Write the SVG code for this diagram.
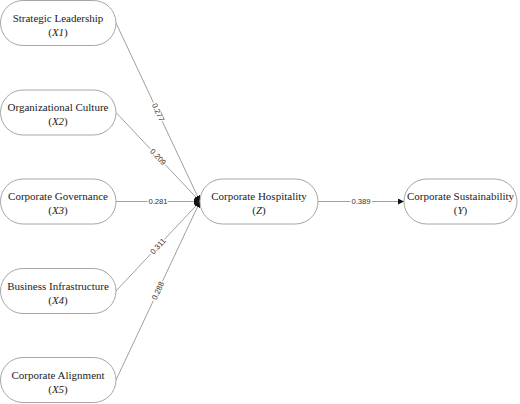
<svg xmlns="http://www.w3.org/2000/svg" width="520" height="404" viewBox="0 0 520 404">
<style>
.node rect{fill:#fff;stroke:#a6a6a6;stroke-width:1}
.node text{font-family:"Liberation Serif","Times New Roman",serif;font-size:11px;fill:#222;text-anchor:middle}
.node tspan.v{font-style:italic}
.edge{stroke:#a0a0a0;stroke-width:1;fill:none}
.lbl{font-family:"Liberation Sans",Arial,sans-serif;font-size:7.7px;fill:#333;text-anchor:middle;dominant-baseline:central;stroke:#fff;stroke-width:3;paint-order:stroke;stroke-linejoin:round}
</style>
<defs>
<marker id="arr" viewBox="0 0 10 10" refX="10" refY="5" markerWidth="6" markerHeight="6" markerUnits="userSpaceOnUse" orient="auto">
<path d="M0,0 L10,5 L0,10 z" fill="#111"/>
</marker>
</defs>
<g id="connectors">
<line class="edge" x1="116" y1="23" x2="200" y2="201.5" marker-end="url(#arr)"/>
<line class="edge" x1="116" y1="112.5" x2="200" y2="201.5" marker-end="url(#arr)"/>
<line class="edge" x1="116" y1="201.5" x2="200" y2="201.5" marker-end="url(#arr)"/>
<line class="edge" x1="116" y1="291" x2="200" y2="201.5" marker-end="url(#arr)"/>
<line class="edge" x1="116" y1="380" x2="200" y2="201.5" marker-end="url(#arr)"/>
<line class="edge" x1="318" y1="201.5" x2="404" y2="201.5" marker-end="url(#arr)"/>
<text class="lbl" transform="translate(158,112.3) rotate(64.8)">0.277</text>
<text class="lbl" transform="translate(158,157) rotate(46.7)">0.209</text>
<text class="lbl" transform="translate(158,201.5)">0.281</text>
<text class="lbl" transform="translate(158,246.3) rotate(-46.8)">0.311</text>
<text class="lbl" transform="translate(158,290.8) rotate(-64.8)">0.288</text>
<text class="lbl" transform="translate(361,201.5)">0.389</text>
</g>
<g id="X1" class="node">
<rect x="0.5" y="0.5" width="115.5" height="45" rx="22.5"/>
<text x="58" y="21.5">Strategic Leadership</text>
<text x="58" y="35.5">(<tspan class="v">X1</tspan>)</text>
</g>
<g id="X2" class="node">
<rect x="0.5" y="90" width="115.5" height="45" rx="22.5"/>
<text x="58" y="111">Organizational Culture</text>
<text x="58" y="125">(<tspan class="v">X2</tspan>)</text>
</g>
<g id="X3" class="node">
<rect x="0.5" y="179" width="115.5" height="45" rx="22.5"/>
<text x="58" y="200">Corporate Governance</text>
<text x="58" y="214">(<tspan class="v">X3</tspan>)</text>
</g>
<g id="X4" class="node">
<rect x="0.5" y="268.5" width="115.5" height="45" rx="22.5"/>
<text x="58" y="289.5">Business Infrastructure</text>
<text x="58" y="303.5">(<tspan class="v">X4</tspan>)</text>
</g>
<g id="X5" class="node">
<rect x="0.5" y="357.5" width="115.5" height="45" rx="22.5"/>
<text x="58" y="378.5">Corporate Alignment</text>
<text x="58" y="392.5">(<tspan class="v">X5</tspan>)</text>
</g>
<g id="Z" class="node">
<rect x="200" y="179" width="118" height="45" rx="22.5"/>
<text x="259" y="200">Corporate Hospitality</text>
<text x="259" y="214">(<tspan class="v">Z</tspan>)</text>
</g>
<g id="Y" class="node">
<rect x="404" y="179" width="113" height="45" rx="22.5"/>
<text x="460.5" y="200">Corporate Sustainability</text>
<text x="460.5" y="214">(<tspan class="v">Y</tspan>)</text>
</g>
</svg>
